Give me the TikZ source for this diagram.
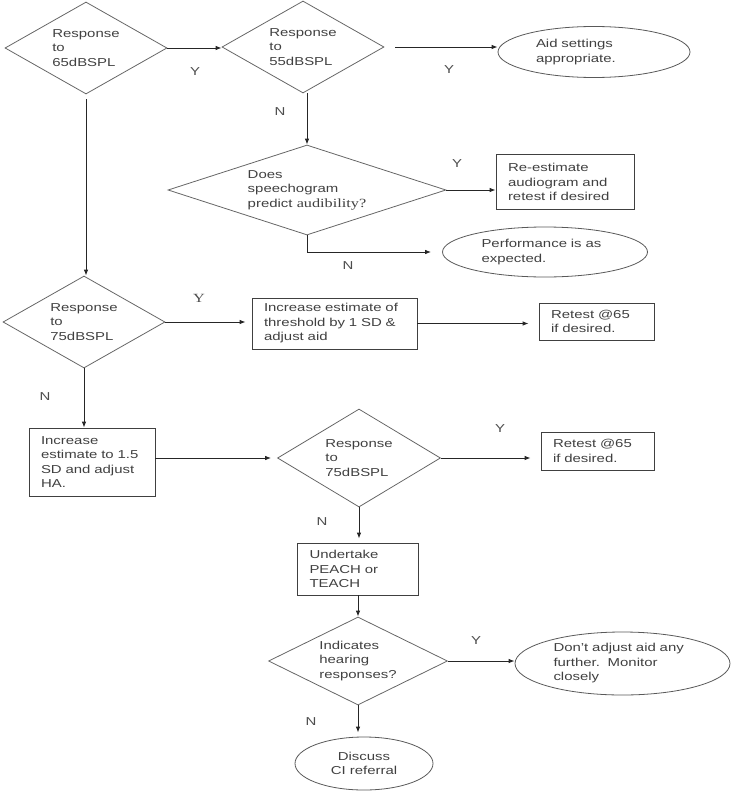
\documentclass[tikz,border=0pt]{standalone}
\usepackage{fontspec}
\setmainfont{Liberation Sans}[FakeStretch=1.3]
\newfontfamily\serifpart{Liberation Serif}[FakeStretch=1.3]
\usetikzlibrary{shapes.geometric,arrows.meta}

\begin{document}
\begin{tikzpicture}[
  x=1pt, y=-1pt,
  font=\fontsize{11.5}{14.5}\selectfont,
  line width=0.8pt,
  dec/.style={draw=black!60, diamond, align=left, text=black!75, inner sep=1pt},
  box/.style={draw=black!75, rectangle, align=left, text=black!75, inner xsep=12pt, inner ysep=3pt},
  oval/.style={draw=black!65, ellipse, align=left, text=black!75, inner sep=1pt},
  lbl/.style={text=black!70, inner sep=0pt},
  arr/.style={-{Latex[length=6pt,width=4.5pt]}, draw=black!85}
]
\useasboundingbox (0,0) rectangle (733,800);

% decisions and outcomes
\node[dec, minimum width=162pt, minimum height=92pt, aspect=1.76] (r65) at (86,48) {Response\\to\\65dBSPL};
\node[dec, minimum width=162pt, minimum height=92pt, aspect=1.76] (r55) at (303,47) {Response\\to\\55dBSPL};
\node[oval, minimum width=192pt, minimum height=51pt, text width=116pt] (aidok) at (594,52) {Aid settings\\appropriate.};
\node[dec, minimum width=278pt, minimum height=90pt, aspect=3] (speech) at (307,190) {Does\\speechogram\\predict {\serifpart\fontsize{12.5}{14.5}\selectfont audibility?}};
\node[box, text width=114pt, minimum height=55pt] (reest) at (565,182) {Re-estimate\\audiogram and\\retest if desired};
\node[oval, minimum width=205pt, minimum height=50pt, text width=127pt] (perf) at (545,252) {Performance is as\\expected.};
\node[dec, minimum width=162pt, minimum height=92pt, aspect=1.76] (r75a) at (84,322) {Response\\to\\75dBSPL};
\node[box, text width=141pt, minimum height=51pt] (incone) at (334.5,323.5) {Increase estimate of\\threshold by 1 SD \&\\adjust aid};
\node[box, text width=91pt, minimum height=37pt] (retesta) at (596.5,321.5) {Retest @65\\if desired.};
\node[box, text width=102pt, minimum height=68pt] (inctwo) at (92,462) {Increase\\estimate to 1.5\\SD and adjust\\HA.};
\node[dec, minimum width=163pt, minimum height=98pt, aspect=1.66] (r75b) at (359,458) {Response\\to\\75dBSPL};
\node[box, text width=89pt, minimum height=38pt] (retestb) at (597.5,451) {Retest @65\\if desired.};
\node[box, text width=97pt, minimum height=52pt] (peach) at (358,569) {Undertake\\PEACH or\\TEACH};
\node[dec, minimum width=179pt, minimum height=88pt, aspect=2.03] (hear) at (358,661) {Indicates\\hearing\\responses?};
\node[oval, minimum width=215pt, minimum height=63pt, text width=138pt] (monitor) at (622.5,663.5) {Don't adjust aid any\\further.\ \ Monitor\\closely};
\node[oval, align=center, minimum width=138pt, minimum height=53pt] (ci) at (364,763.5) {Discuss\\CI referral};

% branch labels
\node[lbl] (y1) at (195,72) {Y};
\node[lbl] (n1) at (280,112) {N};
\node[lbl] (y2) at (449,70) {Y};
\node[lbl] (y3) at (457,164) {Y};
\node[lbl] (n2) at (348,266) {N};
\node[lbl, font=\serifpart\fontsize{12.5}{14.5}\selectfont] (y4) at (199,298) {Y};
\node[lbl] (n3) at (45,397) {N};
\node[lbl] (y5) at (500,429) {Y};
\node[lbl] (n4) at (322,522) {N};
\node[lbl] (y6) at (476,641) {Y};
\node[lbl] (n5) at (311,722) {N};

% connectors
\draw[arr] (r65.east) -- (r65.east -| r55.west);
\draw[arr, shorten <=11pt] (r55.east) -- (r55.east -| aidok.west);
\draw[arr] (speech.north |- r55.south) -- (speech.north);
\draw[arr] (speech.east) -- (speech.east -| reest.west);
\draw[arr, shorten >=11pt] (speech.south) |- (perf.west);
\draw[arr, shorten <=5pt] (r65.south) -- (r65.south |- r75a.north);
\draw[arr, shorten >=6pt] (r75a.east) -- (r75a.east -| incone.west);
\draw[arr, shorten >=10pt] (incone.east) -- (incone.east -| retesta.west);
\draw[arr] (r75a.south) -- (r75a.south |- inctwo.north);
\draw[arr, shorten >=6pt] (inctwo.east |- r75b.west) -- (r75b.west);
\draw[arr, shorten >=10pt] (r75b.east) -- (r75b.east -| retestb.west);
\draw[arr, shorten >=4pt] (r75b.south) -- (r75b.south |- peach.north);
\draw[arr] (peach.south) -- (hear.north);
\draw[arr] (hear.east) -- (hear.east -| monitor.west);
\draw[arr, shorten >=4pt] (hear.south) -- (hear.south |- ci.north);
\end{tikzpicture}
\end{document}
